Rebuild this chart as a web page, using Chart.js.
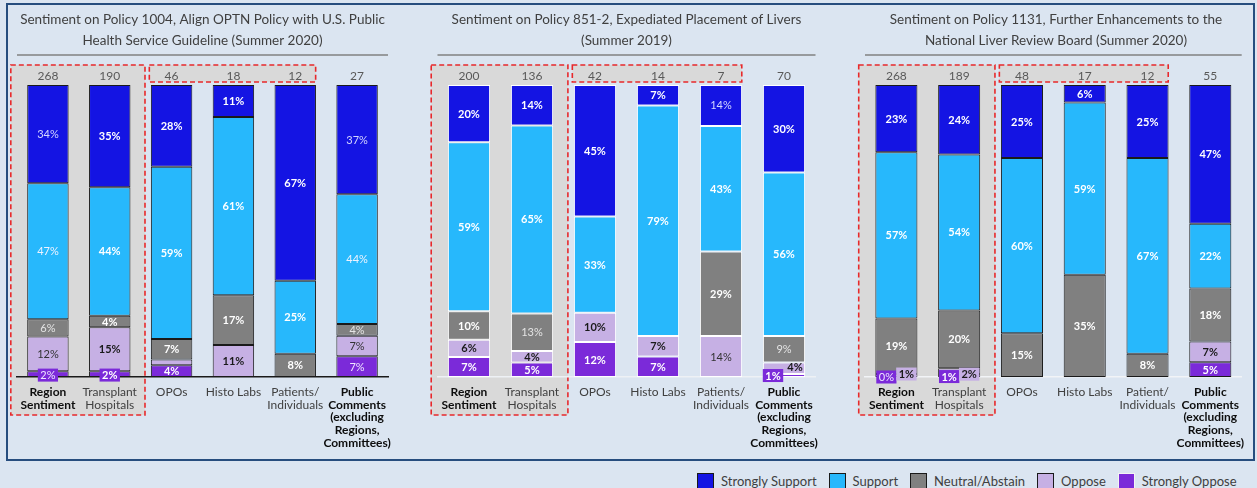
<!DOCTYPE html>
<html>
<head>
<meta charset="utf-8">
<script src="https://cdn.jsdelivr.net/npm/chart.js@4.4.1/dist/chart.umd.min.js"></script>
<style>
  html, body { margin: 0; padding: 0; background: #dbe5f1; width: 1257px; height: 488px; overflow: hidden; }
  body { position: relative; font-family: Lato, "Open Sans", sans-serif; }
  .frame { position: absolute; left: 6px; top: 3px; width: 1249px; height: 458px; border: 2px solid #264d7e; box-sizing: border-box; }
  canvas { position: absolute; }
  #legend { position: absolute; left: 697px; top: 473px; display: flex; align-items: center; font-size: 13px; color: #404040; }
  #legend .item { display: flex; align-items: center; margin-right: 12px; }
  #legend .box { width: 17px; height: 16px; box-sizing: border-box; border: 1.5px solid #1a1a1a; margin-right: 7px; }
</style>
</head>
<body>
<div class="frame"></div>
<canvas id="c1" width="404" height="452" style="left:8px;top:6px"></canvas>
<canvas id="c2" width="416" height="452" style="left:420px;top:6px"></canvas>
<canvas id="c3" width="412" height="452" style="left:842px;top:6px"></canvas>
<div id="legend"></div>
<script>
const FONT = "Lato, 'Open Sans', sans-serif";

// series, bottom of the stack first
const seriesNames = ["Strongly Oppose", "Oppose", "Neutral/Abstain", "Support", "Strongly Support"];
const seriesColors = ["#7b2ad9", "#c6b0e4", "#808080", "#27b8fc", "#1414e3"];

// Policy 1004
const title1 = ["Sentiment on Policy 1004, Align OPTN Policy with U.S. Public", "Health Service Guideline (Summer 2020)"];
const categories1 = [["Region", "Sentiment"], ["Transplant", "Hospitals"], "OPOs", "Histo Labs", ["Patients/", "Individuals"], ["Public", "Comments", "(excluding", "Regions,", "Committees)"]];
const counts1 = [268, 190, 46, 18, 12, 27];
const strongSupport1 = [34, 35, 28, 11, 67, 37];
const support1 = [47, 44, 59, 61, 25, 44];
const neutral1 = [6, 4, 7, 17, 8, 4];
const oppose1 = [12, 15, 2, 11, 0, 7];
const strongOppose1 = [2, 2, 4, 0, 0, 7];

// Policy 851-2
const title2 = ["Sentiment on Policy 851-2, Expediated Placement of Livers", "(Summer 2019)"];
const categories2 = [["Region", "Sentiment"], ["Transplant", "Hospitals"], "OPOs", "Histo Labs", ["Patients/", "Individuals"], ["Public", "Comments", "(excluding", "Regions,", "Committees)"]];
const counts2 = [200, 136, 42, 14, 7, 70];
const strongSupport2 = [20, 14, 45, 7, 14, 30];
const support2 = [59, 65, 33, 79, 43, 56];
const neutral2 = [10, 13, 0, 0, 29, 9];
const oppose2 = [6, 4, 10, 7, 14, 4];
const strongOppose2 = [7, 5, 12, 7, 0, 1];

// Policy 1131
const title3 = ["Sentiment on Policy 1131, Further Enhancements to the", "National Liver Review Board (Summer 2020)"];
const categories3 = [["Region", "Sentiment"], ["Transplant", "Hospitals"], "OPOs", "Histo Labs", ["Patient/", "Individuals"], ["Public", "Comments", "(excluding", "Regions,", "Committees)"]];
const counts3 = [268, 189, 48, 17, 12, 55];
const strongSupport3 = [23, 24, 25, 6, 25, 47];
const support3 = [57, 54, 60, 59, 67, 22];
const neutral3 = [19, 20, 15, 35, 8, 18];
const oppose3 = [1, 2, 0, 0, 0, 7];
const strongOppose3 = [0, 1, 0, 0, 0, 5];

const boldCats = [0, 5];

// label colours per series (bold / plain)
const labelBold = ["#ffffff", "#1a1a1a", "#ffffff", "#ffffff", "#ffffff"];
const labelPlain = ["#efe6ff", "#333333", "#e4e4e4", "#eef2ff", "#d3d6ff"];

// draws the grey group boxes, red dashed outlines and the title rule
const panelDecor = {
    id: "panelDecor",
    beforeDraw(chart) {
        const { ctx, chartArea: a, scales: { x } } = chart;
        const step = x.getPixelForValue(1) - x.getPixelForValue(0);
        const boxes = [
            [x.getPixelForValue(0) - 0.6 * step, a.top - 20, x.getPixelForValue(1) + 0.57 * step, a.bottom + 38],
            [x.getPixelForValue(2) - 0.36 * step, a.top - 20, x.getPixelForValue(4) + 0.33 * step, a.top - 3],
        ];
        ctx.save();
        boxes.forEach(([l, t, r, b]) => {
            ctx.fillStyle = "#d9d9d9";
            ctx.fillRect(l, t, r - l, b - t);
            ctx.setLineDash([5, 3]);
            ctx.strokeStyle = "#e8292b";
            ctx.lineWidth = 1.6;
            ctx.strokeRect(l, t, r - l, b - t);
        });
        ctx.setLineDash([]);
        ctx.strokeStyle = "#808080";
        ctx.lineWidth = 1.5;
        ctx.beginPath();
        ctx.moveTo(a.left, a.top - 30);
        ctx.lineTo(a.right, a.top - 30);
        ctx.stroke();
        ctx.restore();
    },
};

// percentage labels inside the segments
const segmentLabels = {
    id: "segmentLabels",
    afterDatasetsDraw(chart, args, opts) {
        const ctx = chart.ctx;
        ctx.save();
        ctx.textAlign = "center";
        ctx.textBaseline = "middle";
        chart.data.datasets.forEach((ds, di) => {
            chart.getDatasetMeta(di).data.forEach((bar, i) => {
                const v = ds.pct[i];
                const special = opts.moved.find((m) => m[0] === di && m[1] === i);
                if (!special && v < 3) return;
                const plain = opts.plainCols.includes(i) || opts.plainCells.some((c) => c[0] === di && c[1] === i);
                ctx.font = (plain ? "" : "bold ") + "11px " + FONT;
                const text = v + "%";
                let px = bar.x;
                let py = (bar.y + bar.base) / 2;
                if (special) {
                    px += special[2];
                    py += special[3];
                    if (special[4]) {
                        const w = ctx.measureText(text).width + 5;
                        ctx.fillStyle = ds.backgroundColor;
                        ctx.fillRect(px - w / 2, py - 6.5, w, 13);
                    }
                }
                ctx.fillStyle = plain ? labelPlain[di] : labelBold[di];
                ctx.fillText(text, px, py + 0.5);
            });
        });
        ctx.restore();
    },
};

function makePanel(id, title, categories, counts, series, look) {
    const datasets = series.map((vals, k) => ({
        label: seriesNames[k],
        pct: vals,
        data: vals.map((v, i) => (v / series.reduce((s, arr) => s + arr[i], 0)) * 100),
        backgroundColor: seriesColors[k],
        borderColor: look.border,
        borderWidth: (c) => (c.raw > 0 ? 1 : 0),
        borderSkipped: false,
        categoryPercentage: 1,
        barPercentage: 0.67,
    }));
    return new Chart(document.getElementById(id), {
        type: "bar",
        data: { labels: categories, datasets: datasets },
        options: {
            responsive: false,
            devicePixelRatio: 1,
            animation: false,
            layout: { padding: { left: look.padL, right: look.padR, top: 0, bottom: 0 } },
            plugins: {
                legend: { display: false },
                tooltip: { enabled: false },
                title: {
                    display: true,
                    text: title,
                    color: "#404040",
                    font: { family: FONT, size: 13.5, weight: "normal", lineHeight: 1.5 },
                    padding: { top: 4, bottom: 14 },
                },
                segmentLabels: { moved: look.moved, plainCols: look.plainCols, plainCells: look.plainCells },
            },
            scales: {
                x: {
                    stacked: true,
                    grid: { display: false, drawTicks: false },
                    border: { display: true, color: look.axis, width: 1.5 },
                    ticks: {
                        autoSkip: false,
                        maxRotation: 0,
                        padding: 9,
                        font: (c) => ({ family: FONT, size: 12, lineHeight: 1.05, weight: boldCats.includes(c.index) ? "bold" : "normal" }),
                        color: (c) => (boldCats.includes(c.index) ? "#0d0d0d" : "#404040"),
                    },
                    afterFit: (s) => { s.height = 81; },
                },
                x2: {
                    type: "category",
                    position: "top",
                    labels: counts.map(String),
                    offset: true,
                    grid: { display: false, drawTicks: false },
                    border: { display: false },
                    ticks: { color: "#595959", font: { family: FONT, size: 12 }, padding: 2 },
                    afterFit: (s) => { s.height = 20.5; },
                },
                y: { stacked: true, display: false, min: 0, max: 100 },
            },
        },
        plugins: [panelDecor, segmentLabels],
    });
}

makePanel("c1", title1, categories1, counts1,
    [strongOppose1, oppose1, neutral1, support1, strongSupport1],
    { border: "#1a1a1a", axis: "#1a1a1a", padL: 9, padR: 24,
      moved: [[0, 0, 0, 1, true], [0, 1, 0, 1, true]],
      plainCols: [0, 5], plainCells: [] });

makePanel("c2", title2, categories2, counts2,
    [strongOppose2, oppose2, neutral2, support2, strongSupport2],
    { border: "#ffffff", axis: "#eef1f5", padL: 17.5, padR: 20.5,
      moved: [[0, 5, -11, 0, true], [1, 5, 11, -1, false]],
      plainCols: [], plainCells: [[2, 1], [4, 4], [1, 4], [2, 5]] });

makePanel("c3", title3, categories3, counts3,
    [strongOppose3, oppose3, neutral3, support3, strongSupport3],
    { border: "#1a1a1a", axis: "#f2f4f7", padL: 23, padR: 7,
      moved: [[0, 0, -10, 0, true], [1, 0, 10, -1.5, true], [0, 1, -10, 1, true], [1, 1, 10, 3, true]],
      plainCols: [], plainCells: [[0, 0]] });

// legend, top of the stack first
const legendEl = document.getElementById("legend");
seriesNames.slice().reverse().forEach((name, k) => {
    const color = seriesColors[seriesColors.length - 1 - k];
    const item = document.createElement("div");
    item.className = "item";
    const box = document.createElement("span");
    box.className = "box";
    box.style.background = color;
    if (k === seriesNames.length - 1) box.style.borderColor = "#f4f4f4";
    const label = document.createElement("span");
    label.textContent = name;
    item.appendChild(box);
    item.appendChild(label);
    legendEl.appendChild(item);
});
</script>
</body>
</html>
